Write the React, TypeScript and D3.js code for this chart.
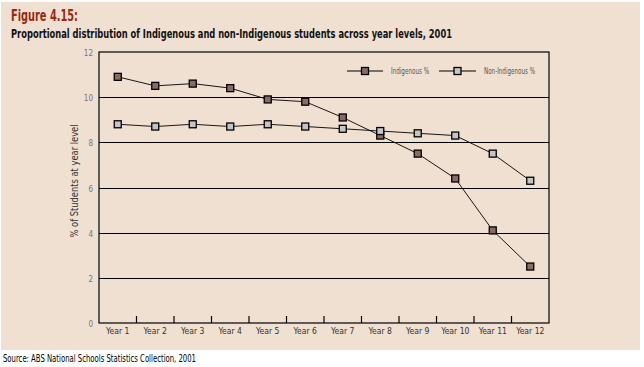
import { useEffect, useRef } from 'react';
import * as d3 from 'd3';

const years = ['Year 1', 'Year 2', 'Year 3', 'Year 4', 'Year 5', 'Year 6', 'Year 7', 'Year 8', 'Year 9', 'Year 10', 'Year 11', 'Year 12'];
const indigenous = [10.9, 10.5, 10.6, 10.4, 9.9, 9.8, 9.1, 8.3, 7.5, 6.4, 4.1, 2.5];
const nonIndigenous = [8.8, 8.7, 8.8, 8.7, 8.8, 8.7, 8.6, 8.5, 8.4, 8.3, 7.5, 6.3];
const yTicks = [0, 2, 4, 6, 8, 10, 12];

export default function App() {
  const ref = useRef<SVGSVGElement>(null);

  useEffect(() => {
    const el = ref.current;
    if (!el) return;
    const svg = d3.select(el);
    svg.selectAll('*').remove();

    const W = 644, H = 367;
    const m = { t: 52, r: 95, b: 44, l: 99 };
    const font = '"Liberation Sans Narrow", "DejaVu Sans Condensed", Arial, sans-serif';

    svg.append('rect').attr('x', 1).attr('y', 2).attr('width', 639).attr('height', 348).attr('fill', '#efe0d1');

    svg.append('text').attr('x', 11).attr('y', 21).attr('fill', '#9a2a12')
      .attr('font-family', font).attr('font-weight', 'bold').attr('font-size', 16)
      .attr('textLength', 67).attr('lengthAdjust', 'spacingAndGlyphs').text('Figure 4.15:');
    svg.append('text').attr('x', 11).attr('y', 38).attr('fill', '#111')
      .attr('font-family', font).attr('font-weight', 'bold').attr('font-size', 12)
      .attr('textLength', 441).attr('lengthAdjust', 'spacingAndGlyphs')
      .text('Proportional distribution of Indigenous and non-Indigenous students across year levels, 2001');

    const x = d3.scaleBand().domain(years).range([m.l, W - m.r]);
    const y = d3.scaleLinear().domain([0, 12]).range([H - m.b, m.t]);

    const g = svg.append('g');

    // gridlines
    g.selectAll('line.grid').data(yTicks.filter(d => d > 0 && d < 12)).join('line')
      .attr('x1', m.l).attr('x2', W - m.r)
      .attr('y1', d => Math.round(y(d)) + 0.5).attr('y2', d => Math.round(y(d)) + 0.5)
      .attr('stroke', '#000').attr('stroke-width', 1.2);

    // frame
    g.append('rect').attr('x', m.l).attr('y', m.t).attr('width', W - m.r - m.l).attr('height', H - m.b - m.t)
      .attr('fill', 'none').attr('stroke', '#000').attr('stroke-width', 1.2);

    // y tick labels
    g.selectAll('text.yt').data(yTicks).join('text')
      .attr('x', 93).attr('y', d => y(d) + 4)
      .attr('text-anchor', 'end').attr('font-family', font).attr('font-size', 8).attr('fill', '#777')
      .text(d => d);

    // x ticks between categories
    g.selectAll('line.xt').data(years.slice(1)).join('line')
      .attr('x1', d => x(d)!).attr('x2', d => x(d)!)
      .attr('y1', H - m.b).attr('y2', H - m.b - 7)
      .attr('stroke', '#000').attr('stroke-width', 1.2);

    g.selectAll('text.xl').data(years).join('text')
      .attr('x', d => x(d)! + x.bandwidth() / 2).attr('y', H - m.b + 11)
      .attr('text-anchor', 'middle').attr('font-family', font).attr('font-size', 8.5).attr('fill', '#333')
      .text(d => d);

    // axis title
    svg.append('text').attr('transform', 'translate(78,181) rotate(-90)')
      .attr('text-anchor', 'middle').attr('font-family', font).attr('font-size', 11).attr('fill', '#333')
      .attr('textLength', 113).attr('lengthAdjust', 'spacingAndGlyphs')
      .text('% of Students at year level');

    const series = [
      { name: 'Indigenous %', values: indigenous, fill: '#8a6a66', tl: 38 },
      { name: 'Non-Indigenous %', values: nonIndigenous, fill: '#c4c4c4', tl: 51 },
    ];

    const line = d3.line<number>()
      .x((_, i) => x(years[i])! + x.bandwidth() / 2)
      .y(d => y(d));

    series.forEach(s => {
      g.append('path').datum(s.values).attr('d', line)
        .attr('fill', 'none').attr('stroke', '#000').attr('stroke-width', 0.9);
    });
    series.forEach(s => {
      g.selectAll(null).data(s.values).join('rect')
        .attr('x', (_, i) => x(years[i])! + x.bandwidth() / 2 - 3.5)
        .attr('y', d => y(d) - 3.5)
        .attr('width', 7).attr('height', 7)
        .attr('fill', s.fill).attr('stroke', '#000').attr('stroke-width', 1.3);
    });

    // legend
    const lg = svg.append('g').attr('transform', 'translate(0,71)');
    const legendX = [347, 439];
    series.forEach((s, i) => {
      const lx = legendX[i];
      const lw = i === 0 ? 36 : 37;
      lg.append('line').attr('x1', lx).attr('x2', lx + lw).attr('y1', 0).attr('y2', 0)
        .attr('stroke', '#000').attr('stroke-width', 1.2);
      lg.append('rect').attr('x', lx + lw / 2 - 3.5).attr('y', -3.5).attr('width', 7).attr('height', 7)
        .attr('fill', s.fill).attr('stroke', '#000').attr('stroke-width', 1.3);
      lg.append('text').attr('x', lx + lw + 8).attr('y', 3)
        .attr('font-family', font).attr('font-size', 8).attr('fill', '#555')
        .attr('textLength', s.tl).attr('lengthAdjust', 'spacingAndGlyphs')
        .text(s.name);
    });

    svg.append('text').attr('x', 3).attr('y', 362)
      .attr('font-family', font).attr('font-size', 10).attr('fill', '#000')
      .attr('textLength', 193).attr('lengthAdjust', 'spacingAndGlyphs')
      .text('Source: ABS National Schools Statistics Collection, 2001');
  }, []);

  return (
    <svg ref={ref} width={644} height={367}
      style={{ position: 'absolute', left: 0, top: 0, display: 'block', background: '#fff' }} />
  );
}
